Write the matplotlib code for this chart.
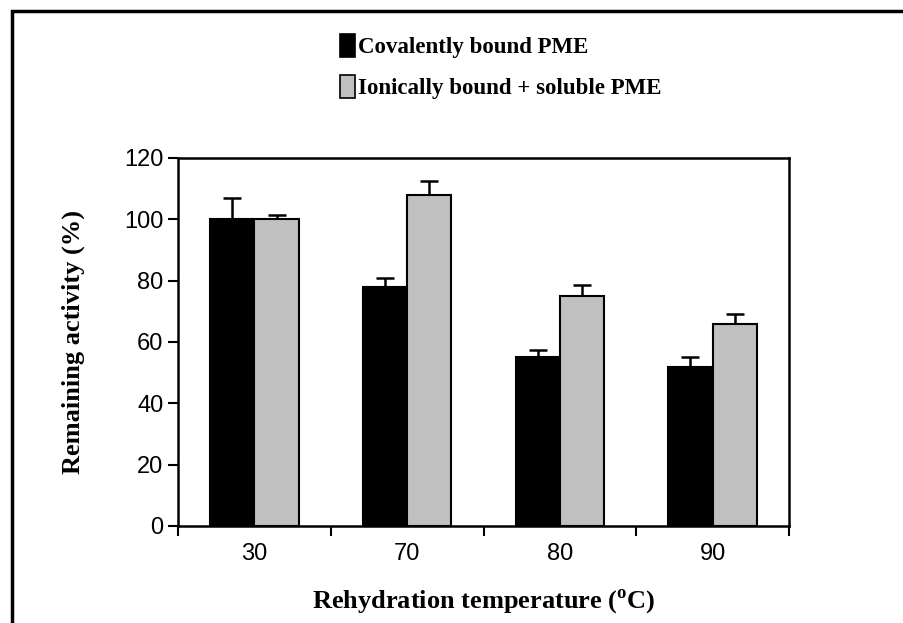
import matplotlib
matplotlib.use("Agg")
import matplotlib.pyplot as plt
from matplotlib.patches import Patch, Rectangle
import numpy as np

temperatures = ["30", "70", "80", "90"]
covalent = [100, 78, 55, 52]
covalent_err = [7, 3, 2.5, 3]
ionic = [100, 108, 75, 66]
ionic_err = [1.5, 4.5, 3.5, 3]
series_labels = ["Covalently bound PME", "Ionically bound + soluble PME"]

serif = "Liberation Serif"
sans = "Liberation Sans"
plt.rcParams["mathtext.fontset"] = "custom"
plt.rcParams["mathtext.bf"] = "Liberation Serif:bold"
plt.rcParams["mathtext.rm"] = "Liberation Serif:bold"

fig = plt.figure(figsize=(9.04, 6.23), dpi=100)
ax = fig.add_axes([0.1969, 0.1557, 0.6759, 0.5907])

x = np.arange(len(temperatures))
width = 0.29
ax.bar(x - width / 2, covalent, width, color="black", edgecolor="black",
       linewidth=1.5, zorder=3)
ax.bar(x + width / 2, ionic, width, color="#c0c0c0", edgecolor="black",
       linewidth=1.5, zorder=3)
ax.errorbar(x - width / 2, covalent, yerr=[np.zeros(len(x)), covalent_err],
            fmt="none", ecolor="black", elinewidth=1.8, capsize=6.5,
            capthick=1.8, zorder=2)
ax.errorbar(x + width / 2, ionic, yerr=[np.zeros(len(x)), ionic_err],
            fmt="none", ecolor="black", elinewidth=1.8, capsize=6.5,
            capthick=1.8, zorder=2)

ax.set_xlim(-0.5, len(x) - 0.5)
ax.set_ylim(0, 120)
ax.set_yticks(range(0, 121, 20))
ax.set_xticks(np.arange(-0.5, len(x), 1.0))
ax.set_xticklabels([])
ax.set_xticks(x, minor=True)
ax.set_xticklabels(temperatures, minor=True)
ax.tick_params(axis="x", which="minor", length=0, pad=12, labelsize=17)
ax.tick_params(axis="both", which="major", direction="out", length=7,
               width=1.5, labelsize=17)
for lbl in ax.get_xticklabels(minor=True) + ax.get_yticklabels():
    lbl.set_fontfamily(sans)
for side in ax.spines:
    ax.spines[side].set_linewidth(1.8)

ax.set_ylabel("Remaining activity (%)", fontfamily=serif, fontweight="bold",
              fontsize=19)
ax.yaxis.set_label_coords(-0.152, 0.5)
ax.set_xlabel(r"Rehydration temperature ($^{\mathbf{o}}$C)", fontfamily=serif,
              fontweight="bold", fontsize=19)
ax.xaxis.set_label_coords(0.5, -0.165)

handles = [Patch(facecolor="black", edgecolor="black", linewidth=1.2),
           Patch(facecolor="#c0c0c0", edgecolor="black", linewidth=1.2)]
fig.legend(handles, series_labels, loc="upper left",
           bbox_to_anchor=(340 / 904, 1 - 34 / 623), frameon=False,
           prop={"family": serif, "weight": "bold", "size": 16.5},
           handlelength=0.65, handleheight=1.15, handletextpad=0.15,
           labelspacing=0.75, borderaxespad=0, borderpad=0)

fig.patches.append(Rectangle((12 / 904, -0.1), 1.2, 1.1 - 11 / 623,
                             transform=fig.transFigure, fill=False,
                             edgecolor="black", linewidth=2.5))

fig.savefig("out.png", dpi=100)
